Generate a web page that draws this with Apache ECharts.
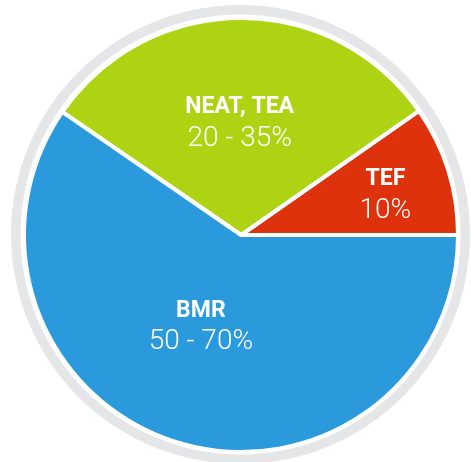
<!DOCTYPE html>
<html>
<head>
<meta charset="utf-8">
<script src="https://cdn.jsdelivr.net/npm/echarts@6/dist/echarts.min.js"></script>
<style>
  html, body { margin: 0; padding: 0; background: #fff; }
  #chart { width: 471px; height: 462px; }
</style>
</head>
<body>
<div id="chart"></div>
<script>
  // slices, counter-clockwise from 3 o'clock
  var names = ['TEF', 'NEAT, TEA', 'BMR'];
  var ranges = ['10%', '20 - 35%', '50 - 70%'];
  var shares = [9.7, 30.7, 59.6];
  var colors = ['#DE320D', '#AED313', '#2B9ADC'];
  // nudges of the labels away from the default inside spot
  var labelShift = [[38, -6], [-1, 0], [-7, -14]];

  var chartDom = document.getElementById('chart');
  var myChart = echarts.init(chartDom);
  var option;

  var pieData = names.map(function (n, i) {
    return { name: n, value: shares[i], range: ranges[i], itemStyle: { color: colors[i] } };
  });

  option = {
    animation: false,
    graphic: [{
      type: 'ring',
      silent: true,
      z: -1,
      shape: { cx: 240.5, cy: 234.5, r: 229.5, r0: 220 },
      style: { fill: '#E5E6E8' }
    }],
    series: [
      {
        type: 'pie',
        center: [241, 235],
        radius: 217,
        startAngle: 0,
        clockwise: false,
        silent: true,
        itemStyle: {
          borderColor: '#fff',
          borderWidth: 4
        },
        label: {
          show: true,
          position: 'inside',
          rotate: 0,
          color: '#fff',
          formatter: function (p) {
            return '{t|' + p.name + '}\n{v|' + p.data.range + '}';
          },
          rich: {
            t: {
              fontFamily: 'Roboto, sans-serif',
              fontWeight: 'bold',
              fontSize: 23,
              lineHeight: 30,
              color: '#fff',
              align: 'center'
            },
            v: {
              fontFamily: 'Roboto, sans-serif',
              fontWeight: 300,
              fontSize: 28,
              lineHeight: 32,
              color: '#fff',
              align: 'center'
            }
          }
        },
        labelLayout: function (params) {
          var s = labelShift[params.dataIndex];
          return { dx: s[0], dy: s[1] };
        },
        labelLine: { show: false },
        data: pieData
      }
    ]
  };
  option && myChart.setOption(option);
</script>
</body>
</html>
